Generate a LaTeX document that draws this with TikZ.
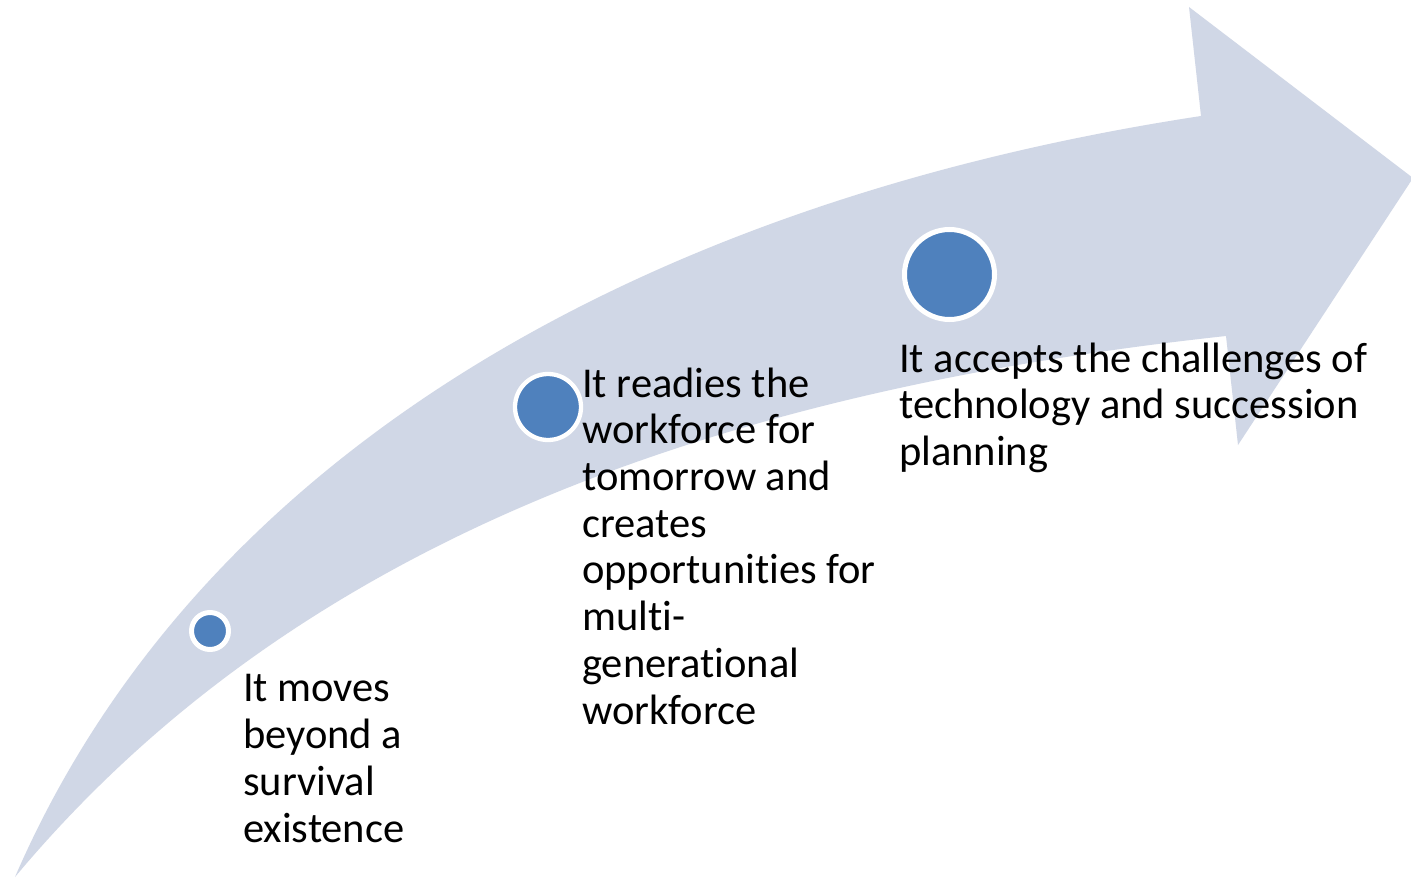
\documentclass[tikz,border=0pt]{standalone}
\usepackage{fontspec}
\setmainfont{Carlito}[Ligatures=NoCommon]
\definecolor{band}{RGB}{208,215,230}
\definecolor{dot}{RGB}{79,129,189}
\begin{document}
\begin{tikzpicture}[x=1pt,y=-1pt,
  dotstyle/.style={circle, fill=dot, draw=white, inner sep=0pt},
  txt/.style={anchor=base west, inner sep=0pt, align=left, font=\fontsize{42.5}{46.7}\selectfont, text=black}]
\useasboundingbox (0,0) rectangle (1411,883);
\clip (0,0) rectangle (1411,883);
\fill[white] (0,0) rectangle (1411,883);
\fill[band] (15,877) .. controls (200,450) and (650,200) .. (1201,116)
  -- (1189,7) -- (1413,178) -- (1238,445) -- (1226,336)
  .. controls (680,395) and (280,560) .. (15,877) -- cycle;
\node[dotstyle, minimum size=37pt, line width=5pt] (c1) at (210,631) {};
\node[dotstyle, minimum size=66pt, line width=4.3pt] (c2) at (548,407) {};
\node[dotstyle, minimum size=90pt, line width=5pt] (c3) at (949.5,274.5) {};
\node[txt] (t1) at (243,842) {It moves\\beyond a\\survival\\existence};
\node[txt] (t2) at (582,724) {It readies the\\workforce for\\tomorrow and\\creates\\opportunities for\\multi-\\generational\\workforce};
\node[txt] (t3) at (899,465.4) {It accepts the challenges of\\technology and succession\\planning};
\end{tikzpicture}
\end{document}
